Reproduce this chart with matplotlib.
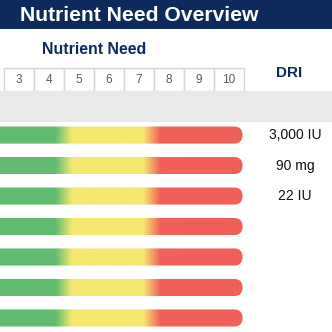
import matplotlib
matplotlib.use("Agg")
import matplotlib.pyplot as plt
import numpy as np
from matplotlib.patches import Rectangle, FancyBboxPatch
from matplotlib.colors import LinearSegmentedColormap

plt.rcParams['font.family'] = ['Liberation Sans', 'DejaVu Sans']

# data
need_ticks = [3, 4, 5, 6, 7, 8, 9, 10]
n_rows = 7
dri_labels = ["3,000 IU", "90 mg", "22 IU", "", "", "", ""]
# colour zones along the need scale (green -> yellow -> red)
zone_stops = [0.5, 4.2, 4.77, 7.13, 7.7, 10.5]
zone_colors = ["#5cb96b", "#5cb96b", "#f3e56c", "#f3e56c", "#ee5c56", "#ee5c56"]

navy = "#0c2a5c"

fig = plt.figure(figsize=(3.32, 3.32), dpi=100)
ax = fig.add_axes([0, 0, 1, 1])
ax.set_xlim(2.367, 13.43)
ax.set_ylim(6.46, -4.43)
ax.axis("off")

# title band
fig.patches.append(Rectangle((0, 1 - 29 / 332), 1, 29 / 332, transform=fig.transFigure,
                             facecolor=navy, edgecolor="none", zorder=0))
fig.text(20 / 332, 1 - 15.5 / 332, "Nutrient Need Overview", color="white",
         fontsize=15.2, fontweight="bold", va="center", ha="left")

ax.text(42 / 332, 1 - 49 / 332, "Nutrient Need", transform=ax.transAxes, color=navy,
        fontsize=11.4, fontweight="bold", va="center", ha="left")
ax.text(289 / 332, 1 - 73 / 332, "DRI", transform=ax.transAxes, color=navy,
        fontsize=11, fontweight="bold", va="center", ha="center")

# scale row
y0, y1 = -2.197, -1.443
for n in need_ticks:
    ax.add_patch(Rectangle((n - 0.5, y0), 1, y1 - y0, facecolor="white",
                           edgecolor="#d6d6d6", lw=1.0))
    ax.text(n, (y0 + y1) / 2 + 0.02, str(n), color="#5a5a5a", fontsize=8.5,
            ha="center", va="center")

# gray band
ax.add_patch(Rectangle((0, y1), 20, -0.426 - y1, facecolor="#e9e9e9", edgecolor="none"))

# gradient bars
cmap = LinearSegmentedColormap.from_list(
    "need", [((s - zone_stops[0]) / (zone_stops[-1] - zone_stops[0]), c)
             for s, c in zip(zone_stops, zone_colors)])
xs = np.linspace(0, 1, 600)
stripes = 0.03 * (np.arange(600) % 4 < 2)
grad = np.clip(cmap(xs)[:, :3] + stripes[:, None], 0, 1)[None, :, :]

bar_left, bar_right, half_h = 0.5, 10.45, 0.28
for i in range(n_rows):
    clip = FancyBboxPatch((bar_left, i - half_h), bar_right - bar_left, 2 * half_h,
                          boxstyle="round,pad=0,rounding_size=0.28",
                          facecolor="none", edgecolor="none")
    ax.add_patch(clip)
    im = ax.imshow(grad, extent=[zone_stops[0], zone_stops[-1], i + half_h, i - half_h],
                   aspect="auto", interpolation="bilinear")
    im.set_clip_path(clip)
    if dri_labels[i]:
        ax.text(12.2, i, dri_labels[i], fontsize=10, color="#111111",
                ha="center", va="center")

ax.set_xlim(2.367, 13.43)
ax.set_ylim(6.46, -4.43)

fig.savefig("out.png", dpi=100)
